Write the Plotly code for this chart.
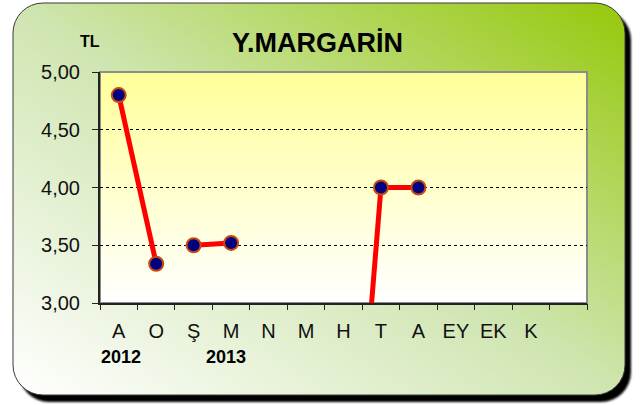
import base64
import plotly.graph_objects as go

# ---- data ----
months = ["A", "O", "Ş", "M", "N", "M", "H", "T", "A", "EY", "EK", "K"]
prices = [4.80, 3.34, 3.50, 3.52, None, None, 0.0, 4.00, 4.00, None, None, None]
line_breaks_after = [1]          # no line drawn between O (2012) and Ş (2013)
year_labels = ["2012", "2013"]
year_pos = [0.05, 2.86]
y_ticks = [3.0, 3.5, 4.0, 4.5, 5.0]

W, H = 641, 405
L, R, T, B = 100, 54, 72, 102
PW, PH = W - L - R, H - T - B
n_slots = len(months) + 1

xs, ys = [], []
for i, v in enumerate(prices):
    xs.append(i)
    ys.append(v)
    if i in line_breaks_after:
        xs.append(None)
        ys.append(None)

svg = f'''<svg xmlns="http://www.w3.org/2000/svg" width="{W}" height="{H}" viewBox="0 0 {W} {H}">
<defs>
<linearGradient id="g" x1="0" y1="1" x2="1" y2="0">
<stop offset="0" stop-color="#ffffff"/>
<stop offset="0.5" stop-color="#cfe5b0"/>
<stop offset="1" stop-color="#96c80a"/>
</linearGradient>
<linearGradient id="p" x1="0" y1="0" x2="0" y2="1">
<stop offset="0" stop-color="#ffff99"/>
<stop offset="1" stop-color="#ffffff"/>
</linearGradient>
<filter id="b" x="-5%" y="-5%" width="110%" height="110%"><feGaussianBlur stdDeviation="1"/></filter>
</defs>
<rect x="19" y="10" width="612" height="392" rx="30" ry="30" fill="#000" filter="url(#b)"/>
<rect x="13" y="3" width="612" height="392" rx="30" ry="30" fill="url(#g)" stroke="#3a3a3a" stroke-width="1"/>
<rect x="{L}" y="{T}" width="{PW}" height="{PH}" fill="url(#p)"/>
</svg>'''
src = "data:image/svg+xml;base64," + base64.b64encode(svg.encode()).decode()

fig = go.Figure()
fig.add_trace(go.Scatter(
    x=xs, y=ys, mode="lines+markers",
    line=dict(color="#ff0000", width=5),
    marker=dict(size=14, color="#000080", line=dict(color="#c84a10", width=2)),
    connectgaps=False, hoverinfo="skip", showlegend=False, cliponaxis=True,
))
# invisible trace to host the boundary-tick axis
fig.add_trace(go.Scatter(x=[0], y=[4], xaxis="x2", mode="markers",
                         marker=dict(opacity=0), hoverinfo="skip", showlegend=False))

fig.update_layout(
    width=W, height=H,
    margin=dict(l=L, r=R, t=T, b=B, pad=0),
    paper_bgcolor="#ffffff",
    plot_bgcolor="rgba(0,0,0,0)",
    separators=",.",
    font=dict(family="Liberation Sans, Arial, sans-serif", color="#000000", size=18),
    xaxis=dict(
        range=[-0.5, n_slots - 0.5], tickvals=list(range(len(months))), ticktext=months,
        ticks="outside", ticklen=9, tickcolor="rgba(0,0,0,0)",
        showgrid=False, zeroline=False, showline=True, linecolor="#222222", linewidth=2,
        tickfont=dict(size=20, color="#111111"), fixedrange=True,
    ),
    xaxis2=dict(
        overlaying="x", anchor="y", side="bottom",
        range=[-0.5, n_slots - 0.5],
        tickvals=[i - 0.5 for i in range(n_slots + 1)],
        ticks="outside", ticklen=6, tickcolor="#222222", tickwidth=1,
        showticklabels=False, showgrid=False, zeroline=False, showline=False,
    ),
    yaxis=dict(
        range=[3, 5], tickvals=y_ticks, tickformat=".2f",
        ticks="outside", ticklen=6, tickcolor="#222222",
        ticklabelstandoff=8,
        showgrid=True, gridcolor="#000000", griddash="dot", gridwidth=1,
        zeroline=False, showline=True, linecolor="#222222", linewidth=2,
        tickfont=dict(size=20, color="#111111"), fixedrange=True,
    ),
    shapes=[dict(type="rect", xref="paper", yref="paper", x0=0, x1=1, y0=0, y1=1,
                 line=dict(color="#8c8c8c", width=2), fillcolor="rgba(0,0,0,0)", layer="below")],
    images=[dict(source=src, xref="paper", yref="paper",
                 x=-L / PW, y=1 + T / PH, sizex=W / PW, sizey=H / PH,
                 xanchor="left", yanchor="top", sizing="stretch", layer="below")],
    annotations=[
        dict(text="<b>Y.MARGARİN</b>", xref="paper", yref="paper",
             x=(317 - L) / PW, y=(H - B - 43) / PH, showarrow=False,
             xanchor="center", yanchor="middle", font=dict(size=27, color="#000000")),
        dict(text="<b>TL</b>", xref="paper", yref="paper",
             x=(90 - L) / PW, y=(H - B - 42) / PH, showarrow=False,
             xanchor="center", yanchor="middle", font=dict(size=16, color="#000000")),
    ] + [
        dict(text=f"<b>{t}</b>", xref="x", yref="paper", x=p, y=(H - B - 357) / PH,
             showarrow=False, xanchor="center", yanchor="middle",
             font=dict(size=18, color="#000000"))
        for t, p in zip(year_labels, year_pos)
    ],
)

fig.write_html("out.html", config={"displayModeBar": False},
               post_script="document.body.style.margin='0';document.body.style.overflow='hidden';")
